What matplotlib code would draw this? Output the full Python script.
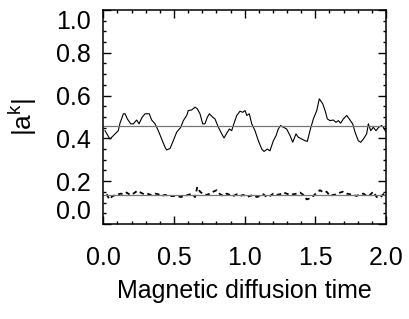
import numpy as np
import matplotlib
matplotlib.use('Agg')
import matplotlib.pyplot as plt
from matplotlib.ticker import MultipleLocator

# solid curve |a^k| (large)
t_solid = [0.012, 0.047, 0.083, 0.106, 0.118, 0.142, 0.154, 0.170, 0.194, 0.212,
           0.236, 0.253, 0.272, 0.295, 0.325, 0.342, 0.366, 0.389, 0.413, 0.437,
           0.448, 0.472, 0.495, 0.519, 0.548, 0.566, 0.590, 0.601, 0.625, 0.649,
           0.665, 0.684, 0.703, 0.719, 0.736, 0.750, 0.774, 0.790, 0.814, 0.838,
           0.854, 0.873, 0.892, 0.908, 0.925, 0.944, 0.967, 0.986, 1.003, 1.015,
           1.033, 1.050, 1.073, 1.097, 1.121, 1.137, 1.160, 1.179, 1.203, 1.222,
           1.238, 1.255, 1.274, 1.297, 1.321, 1.340, 1.363, 1.380, 1.404, 1.427,
           1.443, 1.462, 1.486, 1.510, 1.528, 1.552, 1.569, 1.585, 1.604, 1.627,
           1.646, 1.663, 1.679, 1.698, 1.722, 1.740, 1.764, 1.781, 1.804, 1.821,
           1.840, 1.863, 1.875, 1.892, 1.910, 1.929, 1.948, 1.969, 1.981, 2.000]
a_solid = [0.436, 0.397, 0.421, 0.436, 0.471, 0.515, 0.515, 0.491, 0.468, 0.468,
           0.486, 0.468, 0.496, 0.515, 0.515, 0.486, 0.468, 0.436, 0.397, 0.358,
           0.346, 0.353, 0.389, 0.429, 0.452, 0.483, 0.507, 0.530, 0.533, 0.546,
           0.538, 0.515, 0.468, 0.468, 0.499, 0.515, 0.499, 0.491, 0.452, 0.421,
           0.402, 0.424, 0.444, 0.436, 0.471, 0.507, 0.527, 0.522, 0.530, 0.507,
           0.515, 0.468, 0.436, 0.389, 0.350, 0.339, 0.350, 0.342, 0.389, 0.413,
           0.444, 0.460, 0.452, 0.444, 0.413, 0.382, 0.421, 0.405, 0.397, 0.389,
           0.386, 0.436, 0.491, 0.530, 0.585, 0.562, 0.530, 0.491, 0.483, 0.486,
           0.475, 0.483, 0.471, 0.491, 0.507, 0.491, 0.468, 0.429, 0.389, 0.382,
           0.397, 0.421, 0.468, 0.436, 0.452, 0.436, 0.452, 0.460, 0.452, 0.429]
mean_solid = 0.46

# dashed curve |a^k| (small)
t_dash = [0.024, 0.043, 0.066, 0.095, 0.123, 0.142, 0.165, 0.189, 0.212, 0.241,
          0.264, 0.288, 0.311, 0.335, 0.366, 0.389, 0.413, 0.437, 0.472, 0.500,
          0.524, 0.547, 0.571, 0.602, 0.625, 0.649, 0.665, 0.684, 0.708, 0.731,
          0.755, 0.778, 0.802, 0.826, 0.849, 0.873, 0.896, 0.920, 0.944, 0.967,
          0.991, 1.014, 1.038, 1.061, 1.085, 1.109, 1.132, 1.156, 1.179, 1.203,
          1.226, 1.250, 1.274, 1.297, 1.321, 1.344, 1.368, 1.392, 1.415, 1.439,
          1.462, 1.486, 1.510, 1.533, 1.557, 1.580, 1.604, 1.627, 1.651, 1.675,
          1.698, 1.722, 1.745, 1.769, 1.792, 1.816, 1.840, 1.863, 1.887, 1.910,
          1.934, 1.958, 1.981, 2.000]
a_dash = [0.139, 0.115, 0.131, 0.136, 0.142, 0.139, 0.147, 0.136, 0.142, 0.155,
          0.147, 0.139, 0.142, 0.136, 0.142, 0.139, 0.131, 0.136, 0.130, 0.131,
          0.131, 0.126, 0.131, 0.136, 0.142, 0.126, 0.173, 0.151, 0.139, 0.136,
          0.142, 0.151, 0.158, 0.139, 0.131, 0.142, 0.136, 0.131, 0.139, 0.131,
          0.136, 0.126, 0.131, 0.136, 0.126, 0.131, 0.139, 0.126, 0.131, 0.142,
          0.136, 0.139, 0.147, 0.142, 0.136, 0.139, 0.142, 0.147, 0.136, 0.115,
          0.120, 0.131, 0.147, 0.158, 0.147, 0.151, 0.131, 0.136, 0.139, 0.147,
          0.151, 0.142, 0.139, 0.136, 0.131, 0.139, 0.142, 0.131, 0.136, 0.151,
          0.126, 0.123, 0.139, 0.145]
mean_dash = 0.136

xticks = [0.0, 0.5, 1.0, 1.5, 2.0]
yticks = [0.0, 0.2, 0.4, 0.6, 0.8, 1.0]

plt.rcParams['font.family'] = ['Liberation Sans', 'DejaVu Sans']
plt.rcParams['mathtext.fontset'] = 'custom'
plt.rcParams['mathtext.rm'] = 'Liberation Sans'

fig = plt.figure(figsize=(4.09, 3.19), dpi=100)
ax = fig.add_axes([0.2526, 0.2978, 0.6912, 0.6709])

ax.plot(t_solid, a_solid, color='black', lw=0.8)
ax.axhline(mean_solid, color='#777777', lw=0.9)
ax.plot(t_dash, a_dash, color='black', lw=1.3, dashes=(2.5, 2))
ax.axhline(mean_dash, color='#777777', lw=0.9)

ax.set_xlim(0, 2)
ax.set_ylim(0, 1)
ax.set_xticks(xticks)
ax.set_xticklabels([f'{v:.1f}' for v in xticks])
ax.set_yticks(yticks)
ax.set_yticklabels([f'{v:.1f}' for v in yticks])
ax.xaxis.set_minor_locator(MultipleLocator(0.1))
ax.yaxis.set_minor_locator(MultipleLocator(0.05))

ax.tick_params(which='both', direction='in', top=True, right=True, width=1.0)
ax.tick_params(which='major', length=6)
ax.tick_params(which='minor', length=2.5)
ax.tick_params(axis='x', labelsize=18, pad=16)
ax.tick_params(axis='y', labelsize=18, pad=9)
for s in ax.spines.values():
    s.set_linewidth(1.1)

# IDL-style: edge labels pulled inside the box
ylabs = ax.get_yticklabels()
ylabs[0].set_va('bottom')
ylabs[-1].set_va('top')

ax.set_xlabel('Magnetic diffusion time', fontsize=18, labelpad=6)
ax.set_ylabel('|a$^{\\rm k}$|', fontsize=19, labelpad=12)

fig.savefig('out.png', dpi=100)
